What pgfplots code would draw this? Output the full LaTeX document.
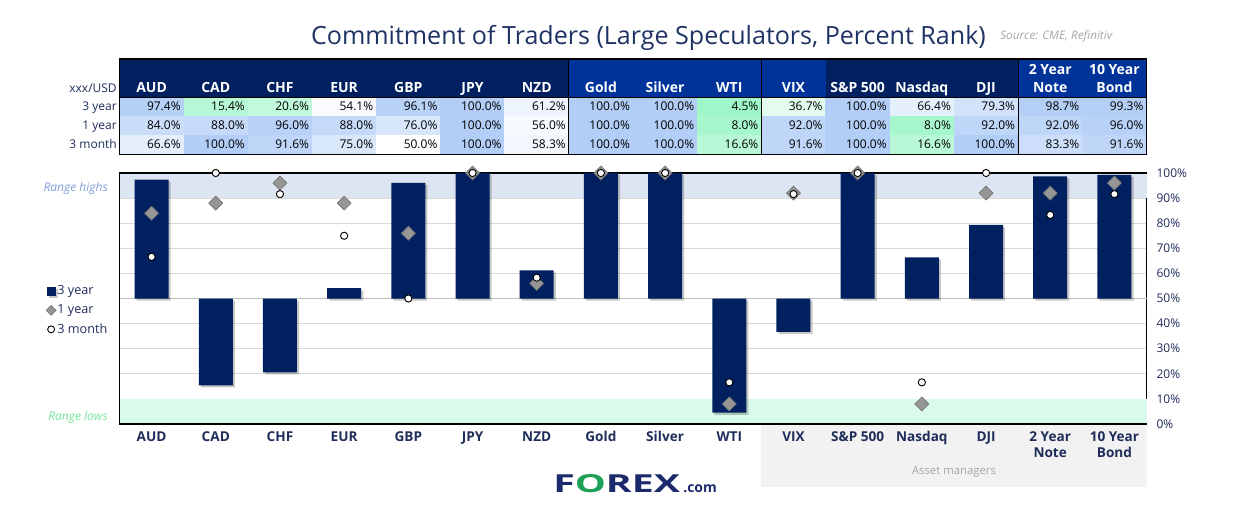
\documentclass[border=0pt]{standalone}
\usepackage{fontspec}
\setmainfont{Open Sans}
\usepackage{graphicx}
\usepackage{pgfplots}
\pgfplotsset{compat=1.18}
\usepackage{pgfplotstable}
\usetikzlibrary{shadows}

\definecolor{navy}{RGB}{0,32,96}
\definecolor{hdrblue}{RGB}{0,51,153}
\definecolor{titlenavy}{RGB}{31,50,100}
\definecolor{labelnavy}{RGB}{31,45,90}
\definecolor{gridgray}{RGB}{217,217,217}
\definecolor{basegray}{RGB}{190,190,190}
\definecolor{highband}{RGB}{221,228,242}
\definecolor{lowband}{RGB}{217,251,233}
\definecolor{diafill}{RGB}{150,150,150}
\definecolor{diadraw}{RGB}{115,115,115}
\definecolor{assetgray}{RGB}{242,242,242}
\definecolor{srcgray}{RGB}{166,166,166}
\definecolor{highstxt}{RGB}{125,158,215}
\definecolor{lowstxt}{RGB}{115,230,155}
\definecolor{logonavy}{RGB}{27,42,107}
\definecolor{logogreen}{RGB}{30,160,86}

% x = category index, y3 = 3 year, y1 = 1 year, m3 = 3 month (percent rank)
\pgfplotstableread{
x y3 y1 m3
0 97.4 84.0 66.6
1 15.4 88.0 100.0
2 20.6 96.0 91.6
3 54.1 88.0 75.0
4 96.1 76.0 50.0
5 100.0 100.0 100.0
6 61.2 56.0 58.3
7 100.0 100.0 100.0
8 100.0 100.0 100.0
9 4.5 8.0 16.6
10 36.7 92.0 91.6
11 100.0 100.0 100.0
12 66.4 8.0 16.6
13 79.3 92.0 100.0
14 98.7 92.0 83.3
15 99.3 96.0 91.6
}\cot

\pgfdeclareplotmark{cell}{\pgfpathrectangle{\pgfpoint{-24.2pt}{-7.25pt}}{\pgfpoint{48.4pt}{14.5pt}}\pgfusepathqfill}

\pgfplotsset{
  cellrow/.style={
    scatter, only marks, mark=cell,
    scatter/use mapped color={draw=none, fill=mapped color},
    point meta=\thisrow{#1},
  },
  textrow/.style={
    draw=none, mark=none,
    point meta=\thisrow{#1},
    nodes near coords={\pgfmathprintnumber[fixed,fixed zerofill,precision=1,assume math mode=true]{\pgfplotspointmeta}\%},
    every node near coord/.append style={anchor=east, xshift=22pt, text=black,
      font=\fontsize{9}{10}\selectfont, inner sep=0pt, text height=6.6pt, text depth=1.4pt},
  },
  marklegend/.style={legend image code/.code={\draw[mark repeat=2,mark phase=2,##1,mark size=2.6pt] plot coordinates {(0pt,0pt) (3.4pt,0pt) (6.8pt,0pt)};}},
  barlegend/.style={legend image code/.code={\fill[navy] (0pt,-3.4pt) rectangle (6.8pt,3.4pt);}},
}

\begin{document}
\begin{tikzpicture}
\begin{scope}[x=0.75pt,y=-0.75pt]
\useasboundingbox (0,0) rectangle (1247,518);
% title
\node[anchor=base, text=titlenavy, font=\fontsize{18.8}{22}\selectfont, inner sep=0] at (648.5,44) {Commitment of Traders (Large Speculators, Percent Rank)};
\node[anchor=base west, text=srcgray, font=\fontsize{8.8}{10}\selectfont\itshape, inner sep=0] at (1000,39) {Source: CME, Refinitiv};
% header backgrounds
\fill[navy] (119.5,59) rectangle (568.8,97.5);
\fill[hdrblue] (568.8,59) rectangle (825.6,97.5);
\fill[navy] (825.6,59) rectangle (1018.2,97.5);
\fill[hdrblue] (1018.2,59) rectangle (1146.5,97.5);
% header labels
\foreach \i/\n in {0/AUD,1/CAD,2/CHF,3/EUR,4/GBP,5/JPY,6/NZD,7/Gold,8/Silver,9/WTI,10/VIX,11/S\&P 500,12/Nasdaq,13/DJI,14/Note,15/Bond}
  \node[anchor=base, text=white, font=\bfseries\fontsize{10.5}{12}\selectfont, inner sep=0] at ({119.5+(\i+0.5)*64.1875},92.5) {\n};
\node[anchor=base, text=white, font=\bfseries\fontsize{10.5}{12}\selectfont, inner sep=0] at ({119.5+14.5*64.1875},74) {2 Year};
\node[anchor=base, text=white, font=\bfseries\fontsize{10.5}{12}\selectfont, inner sep=0] at ({119.5+15.5*64.1875},74) {10 Year};
% row labels
\node[anchor=base east, text=labelnavy, font=\fontsize{9}{10}\selectfont, inner sep=0] at (117,92.5) {xxx/USD};
\node[anchor=east, text=labelnavy, font=\fontsize{9}{10}\selectfont, inner sep=0, text height=6.6pt, text depth=1.4pt] at (117,107) {3 year};
\node[anchor=east, text=labelnavy, font=\fontsize{9}{10}\selectfont, inner sep=0, text height=6.6pt, text depth=1.4pt] at (117,126) {1 year};
\node[anchor=east, text=labelnavy, font=\fontsize{9}{10}\selectfont, inner sep=0, text height=6.6pt, text depth=1.4pt] at (117,145) {3 month};
% range labels
\node[anchor=base east, text=highstxt, font=\itshape\fontsize{9}{10}\selectfont, inner sep=0] at (108,191) {Range highs};
\node[anchor=base east, text=lowstxt, font=\itshape\fontsize{9}{10}\selectfont, inner sep=0] at (108,420) {Range lows};
% asset managers box
\fill[assetgray] (761.4,425) rectangle (1146.5,487);
\node[text=srcgray, font=\fontsize{8.5}{10}\selectfont, inner sep=0] at (954,472) {Asset managers};
% logo
\node[anchor=base west, inner sep=0] at (553,492) {\resizebox{95pt}{13.5pt}{\bfseries\color{logonavy}F\textcolor{logogreen}{O}REX}};
\node[anchor=base west, inner sep=0, font=\bfseries\fontsize{10.5}{12}\selectfont, text=logonavy] at (683,492) {.com};
\end{scope}

% ---------- heat-map table ----------
\begin{axis}[at={(89.625pt,-115.875pt)}, anchor=south west, scale only axis,
  width=770.25pt, height=42.75pt, xmin=-0.5, xmax=15.5, ymin=0.5, ymax=3.5,
  hide axis, clip=false,
  colormap={heat}{rgb255(0cm)=(150,245,195); rgb255(1cm)=(255,255,255); rgb255(2cm)=(178,206,246)},
  point meta min=0, point meta max=100]
\addplot[cellrow=y3] table[x=x, y expr=3] {\cot};
\addplot[cellrow=y1] table[x=x, y expr=2] {\cot};
\addplot[cellrow=m3] table[x=x, y expr=1] {\cot};
\addplot[textrow=y3] table[x=x, y expr=3] {\cot};
\addplot[textrow=y1] table[x=x, y expr=2] {\cot};
\addplot[textrow=m3] table[x=x, y expr=1] {\cot};
\end{axis}

% ---------- main chart ----------
\begin{axis}[at={(89.625pt,-318pt)}, anchor=south west, scale only axis,
  width=770.25pt, height=188.25pt, xmin=-0.5, xmax=15.5, ymin=-50, ymax=50,
  clip=false,
  axis line style={black, line width=0.8pt},
  xtick={0,...,15},
  xticklabels={AUD,CAD,CHF,EUR,GBP,JPY,NZD,Gold,Silver,WTI,VIX,S\&P 500,Nasdaq,DJI,{2 Year\\Note},{10 Year\\Bond}},
  xticklabel style={font=\bfseries\fontsize{10.2}{12}\selectfont, text=labelnavy, align=center, anchor=north, yshift=-2pt},
  ytick={-50,-40,...,50},
  yticklabels={0\%,10\%,20\%,30\%,40\%,50\%,60\%,70\%,80\%,90\%,100\%},
  yticklabel pos=right,
  yticklabel style={font=\fontsize{9}{10}\selectfont, text=labelnavy, anchor=west, xshift=4pt},
  major tick length=0pt,
  ymajorgrids, grid style={gridgray, line width=0.6pt},
  extra y ticks={0}, extra y tick labels={},
  extra y tick style={grid style={basegray, line width=1.1pt}},
  legend cell align=left,
  legend style={at={(-0.0755,0.578)}, anchor=north west, draw=none, fill=none,
    font=\fontsize{9.5}{11}\selectfont, text=labelnavy, row sep=0pt,
    nodes={inner sep=1pt, minimum height=14.25pt},
    /tikz/every odd column/.append style={column sep=0pt}},
]
\addplot[fill=highband, draw=none, forget plot] coordinates {(-0.5,40) (15.5,40) (15.5,49.6) (-0.5,49.6)} -- cycle;
\addplot[fill=lowband, draw=none, forget plot] coordinates {(-0.5,-49.6) (15.5,-49.6) (15.5,-40) (-0.5,-40)} -- cycle;
\addplot[ybar, bar width=25.5pt, fill=navy, draw=none,
  drop shadow={shadow xshift=1.6pt, shadow yshift=-1.6pt, opacity=0.22, fill=black},
  barlegend]
  table[x=x, y expr=\thisrow{y3}-50] {\cot};
\addlegendentry{3 year}
\addplot[only marks, mark=square*, mark size=3.7pt,
  mark options={rotate=45, fill=diafill, draw=diadraw, line width=0.5pt},
  marklegend]
  table[x=x, y expr=\thisrow{y1}-50] {\cot};
\addlegendentry{1 year}
\addplot[only marks, mark=*, mark size=2.7pt,
  mark options={fill=white, draw=black, line width=0.7pt},
  marklegend]
  table[x=x, y expr=\thisrow{m3}-50] {\cot};
\addlegendentry{3 month}
\end{axis}

% table borders
\begin{scope}[x=0.75pt,y=-0.75pt]
\draw[black, line width=0.9pt] (119.5,59) rectangle (1146.5,154.5);
\draw[black, line width=0.9pt] (119.5,97.5) -- (1146.5,97.5);
\foreach \xx in {568.8,761.4,1018.2} \draw[black, line width=0.9pt] (\xx,59) -- (\xx,154.5);
\end{scope}
\end{tikzpicture}
\end{document}
